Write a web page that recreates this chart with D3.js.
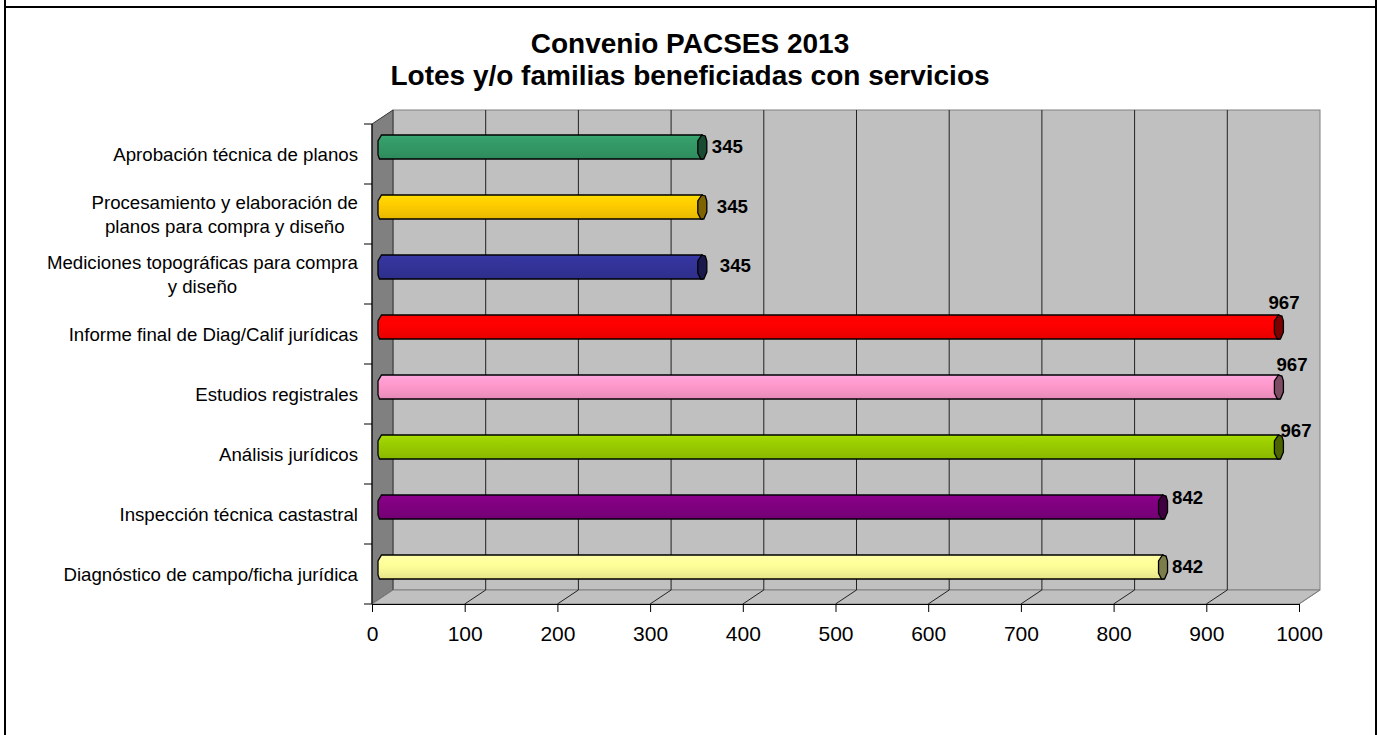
<!DOCTYPE html>
<html>
<head>
<meta charset="utf-8">
<script src="https://cdn.jsdelivr.net/npm/d3@7"></script>
<style>
  html, body { margin: 0; padding: 0; background: #fff; }
  svg { display: block; font-family: Arial, "Liberation Sans", sans-serif; }
</style>
</head>
<body>
<svg id="chart" width="1379" height="735"></svg>
<script>
// Chart data
const titleLines = ["Convenio PACSES 2013", "Lotes y/o familias beneficiadas con servicios"];
const categories = [
  "Aprobación técnica de planos",
  "Procesamiento y elaboración de\nplanos para compra y diseño",
  "Mediciones topográficas para compra\ny diseño",
  "Informe final de Diag/Calif jurídicas",
  "Estudios registrales",
  "Análisis jurídicos",
  "Inspección técnica castastral",
  "Diagnóstico de campo/ficha jurídica"
];
const values = [345, 345, 345, 967, 967, 967, 842, 842];
const barColors = ["#339966", "#FFCC00", "#333399", "#FF0000", "#FF99CC", "#99CC00", "#800080", "#FFFF99"];
const xTicks = [0, 100, 200, 300, 400, 500, 600, 700, 800, 900, 1000];

(function () {
const svg = d3.select("#chart");
const defs = svg.append("defs");

// Plot geometry (front plane + 3D depth offset)
const pLeft = 372, pRight = 1299, pTop = 124, pBottom = 604;
const depthX = 21, depthY = -14;

const x = d3.scaleLinear().domain([0, 1000]).range([pLeft, pRight]);
const y = d3.scaleBand().domain(categories).range([pTop, pBottom]).paddingInner(0);

// Outer frame
svg.append("path")
  .attr("d", `M5,0 L5,735 M1376,0 L1376,735 M5,7 L1376,7`)
  .attr("stroke", "#000").attr("stroke-width", 2).attr("fill", "none");

// Title
const title = svg.append("text")
  .attr("text-anchor", "middle")
  .attr("font-weight", "bold")
  .attr("font-size", 28)
  .attr("fill", "#000");
titleLines.forEach((t, i) => {
  title.append("tspan").attr("x", 690).attr("y", 53 + i * 32).text(t);
});

// Back wall
svg.append("rect")
  .attr("x", pLeft + depthX).attr("y", pTop + depthY)
  .attr("width", pRight - pLeft).attr("height", pBottom - pTop)
  .attr("fill", "#C0C0C0").attr("stroke", "#808080").attr("stroke-width", 1);

// Side wall
svg.append("path")
  .attr("d", `M${pLeft},${pTop} L${pLeft + depthX},${pTop + depthY} L${pLeft + depthX},${pBottom + depthY} L${pLeft},${pBottom} Z`)
  .attr("fill", "#808080").attr("stroke", "#333").attr("stroke-width", 1);

// Floor
svg.append("path")
  .attr("d", `M${pLeft},${pBottom} L${pLeft + depthX},${pBottom + depthY} L${pRight + depthX},${pBottom + depthY} L${pRight},${pBottom} Z`)
  .attr("fill", "#C0C0C0").attr("stroke", "#808080").attr("stroke-width", 1);

// Gridlines on back wall and floor
const grid = svg.append("g").attr("stroke", "#222").attr("stroke-width", 1).attr("fill", "none");
xTicks.forEach(t => {
  const gx = x(t);
  if (t > 0 && t < 1000) {
    grid.append("line")
      .attr("x1", gx + depthX).attr("x2", gx + depthX)
      .attr("y1", pTop + depthY).attr("y2", pBottom + depthY);
  }
  if (t > 0) {
    grid.append("line")
      .attr("x1", gx).attr("y1", pBottom)
      .attr("x2", gx + depthX).attr("y2", pBottom + depthY)
      .attr("stroke", t === 1000 ? "#808080" : "#222");
  }
});

// Left axis line with boundary ticks between categories
const yAxisG = svg.append("g").attr("stroke", "#000").attr("stroke-width", 1);
yAxisG.append("line").attr("x1", pLeft).attr("x2", pLeft).attr("y1", pTop).attr("y2", pBottom);
categories.map(c => y(c)).concat([y.range()[1]]).forEach(v => {
  yAxisG.append("line").attr("x1", pLeft - 8).attr("x2", pLeft).attr("y1", v).attr("y2", v);
});

// Bottom axis
const xAxis = d3.axisBottom(x).tickValues(xTicks).tickFormat(d3.format("d"))
  .tickSize(8).tickPadding(14).tickSizeOuter(0);
const xAxisG = svg.append("g").attr("transform", `translate(0,${pBottom})`).call(xAxis);
xAxisG.select(".domain").attr("stroke", "#000");
xAxisG.selectAll(".tick line").attr("stroke", "#000");
xAxisG.selectAll(".tick text")
  .attr("font-size", 21).attr("font-family", "Arial, 'Liberation Sans', sans-serif").attr("fill", "#000");

// Category labels (multi-line labels centred as a block, right edge at the axis)
const labelRight = 358;
categories.forEach(c => {
  const lines = c.split("\n");
  const cy = y(c) + y.bandwidth() / 2;
  const g = svg.append("text")
    .attr("font-size", 18.67).attr("fill", "#000").attr("text-anchor", "middle");
  const spans = lines.map((ln, i) =>
    g.append("tspan").attr("y", cy + 7 + (i - (lines.length - 1) / 2) * 24).text(ln));
  const maxW = d3.max(spans, s => s.node().getComputedTextLength());
  spans.forEach(s => s.attr("x", labelRight - maxW / 2));
});

// 3D cylinder-style bars
const barH = 24, capW = 4.5;
const bars = svg.append("g");
categories.forEach((c, i) => {
  const col = d3.color(barColors[i]);
  const gid = "grad" + i;
  const grad = defs.append("linearGradient").attr("id", gid)
    .attr("x1", 0).attr("y1", 0).attr("x2", 0).attr("y2", 1);
  [[0, col.brighter(0.35)], [0.12, col.brighter(0.15)], [0.4, col],
   [0.7, col.darker(0.12)], [1, col.darker(0.3)]].forEach(([o, cc]) => {
    grad.append("stop").attr("offset", o).attr("stop-color", cc.formatHex());
  });

  const cy = y(c) + y.bandwidth() / 2 + depthY / 2;
  const x0 = x(0) + depthX / 2;
  const x1 = x(values[i]) + depthX / 2;
  const t = cy - barH / 2, b = cy + barH / 2;

  // body with chamfered left end
  bars.append("path")
    .attr("d", `M${x1},${t} L${x0 - 1},${t} L${x0 - capW},${t + 6} L${x0 - capW},${b - 4} ` +
               `L${x0 - capW + 1.5},${b} L${x1},${b} Z`)
    .attr("fill", `url(#${gid})`).attr("stroke", "#000").attr("stroke-width", 1.3);

  // end cap
  bars.append("path")
    .attr("d", `M${x1 - 0.5},${t} L${x1 + 3},${t + 1} L${x1 + capW},${t + 6} L${x1 + capW},${b - 7} ` +
               `L${x1 + 1.5},${b} L${x1 - 1.5},${b} L${x1 - capW},${b - 6} L${x1 - capW},${t + 6} Z`)
    .attr("fill", col.darker(2).formatHex()).attr("stroke", "#000").attr("stroke-width", 1.3);
});

// Value labels, placed relative to each bar's end
const labelOffsets = [[5, 6], [10, 6], [13, 5], [-15, -18], [-7, -16], [-3, -10], [4.5, -3], [4.5, 6]];
categories.forEach((c, i) => {
  const cy = y(c) + y.bandwidth() / 2 + depthY / 2;
  const xe = x(values[i]) + depthX / 2 + capW;
  svg.append("text")
    .attr("x", xe + labelOffsets[i][0])
    .attr("y", cy + labelOffsets[i][1])
    .attr("font-size", 18.67).attr("font-weight", "bold").attr("fill", "#000")
    .text(values[i]);
});
})();
</script>
</body>
</html>
